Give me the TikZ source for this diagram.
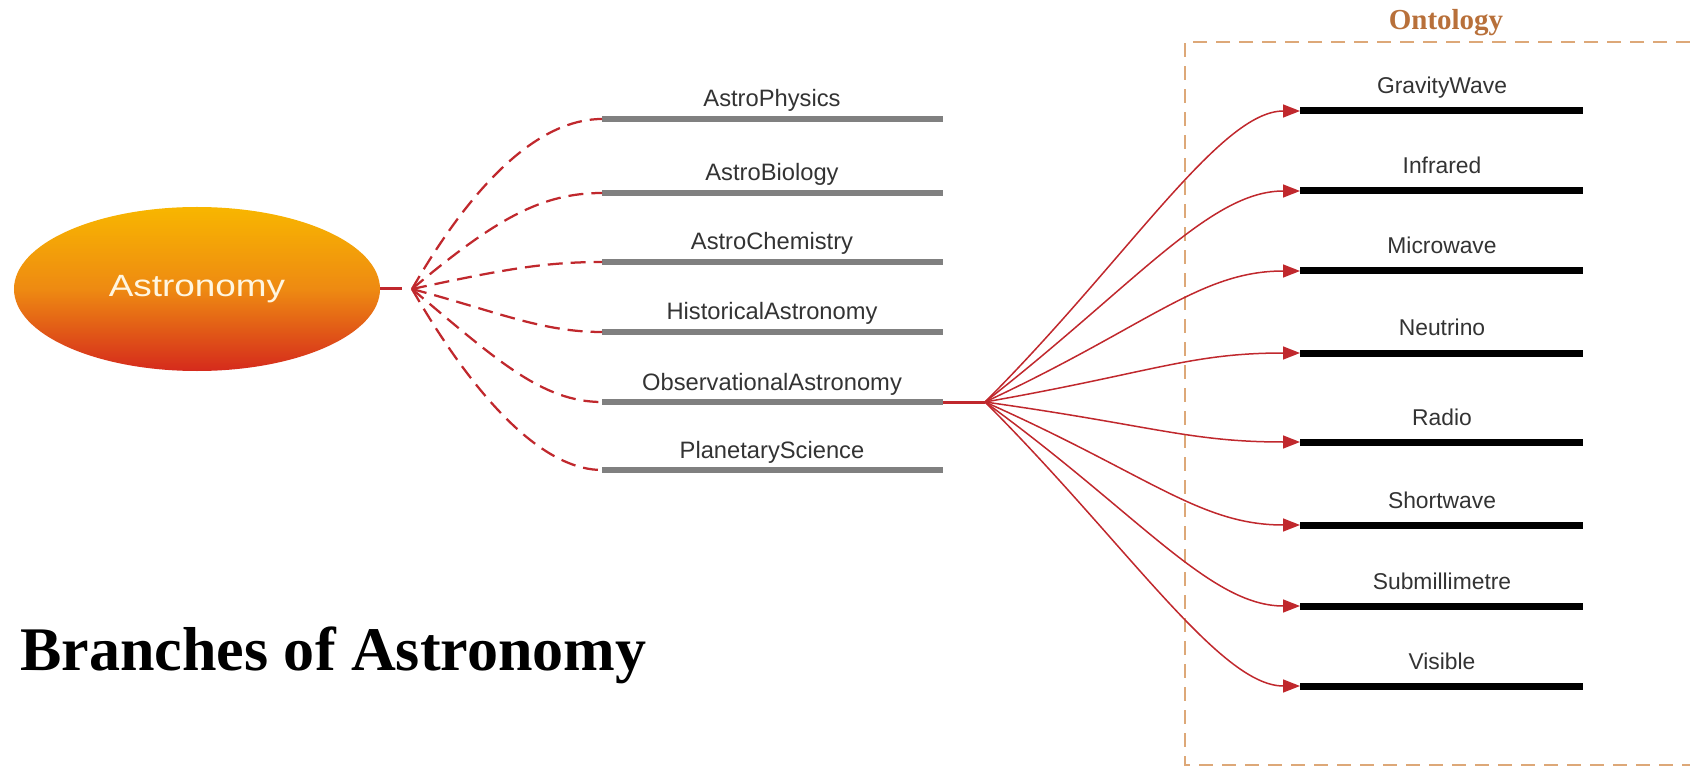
\documentclass[tikz,border=0pt]{standalone}
\usepackage{fontspec}
\setmainfont{Liberation Serif}
\newfontfamily\labelfont{Liberation Sans}
\newfontfamily\widefont[FakeStretch=1.2]{Liberation Sans}
\usepackage{tikz}
\usetikzlibrary{arrows.meta,shapes.geometric}
\definecolor{linkred}{HTML}{C0282D}
\definecolor{bargray}{HTML}{808080}
\definecolor{labelgray}{HTML}{333333}
\definecolor{ontoline}{HTML}{DDA878}
\definecolor{ontotext}{HTML}{B8703A}
\definecolor{sunyellow}{HTML}{F8B600}
\definecolor{sunorange}{HTML}{EE8A12}
\definecolor{sunred}{HTML}{D52A1C}
\definecolor{cream}{HTML}{FFF6E0}
\tikzset{%
    >={Triangle[length=3.4mm,width=2.6mm]},
    branch/.style={anchor=base, text=labelgray, font=\labelfont\fontsize{13.5}{16}\selectfont},
    band/.style={anchor=base, text=labelgray, font=\labelfont\fontsize{13}{16}\selectfont},
    graybar/.style={draw=bargray, line width=1.2mm},
    blackbar/.style={draw=black, line width=1.4mm},
    dashlink/.style={draw=linkred, line width=0.45mm, dash pattern=on 3mm off 1.6mm},
    redlink/.style={draw=linkred, line width=0.3mm, ->},
    ontobox/.style={draw=ontoline, line width=0.4mm, dash pattern=on 2.8mm off 1.8mm}
}

\begin{document}
\begin{tikzpicture}[x=0.2mm,y=0.2mm]
        \useasboundingbox (0,0) rectangle (1690,767);

        % root
        \node[ellipse, minimum width=73.2mm, minimum height=32.8mm, inner sep=0,
              top color=sunyellow, bottom color=sunred, middle color=sunorange,
              text=cream, font=\widefont\fontsize{17.5}{20}\selectfont] (astro) at (197,478) {Astronomy};
        \coordinate (stub) at (402,478);
        \coordinate (fan) at (412,478);
        \draw[linkred, line width=0.6mm] (astro.east) -- (stub);

        % branches
        \node[branch] (physics) at (772,660) {AstroPhysics};
        \node[branch] (biology) at (772,586) {AstroBiology};
        \node[branch] (chemistry) at (772,517) {AstroChemistry};
        \node[branch] (history) at (772,447) {HistoricalAstronomy};
        \node[branch] (observe) at (772,377) {ObservationalAstronomy};
        \node[branch] (planet) at (772,309) {PlanetaryScience};
        \draw[graybar] (602,648) coordinate (physics-w) -- (943,648);
        \draw[graybar] (602,574) coordinate (biology-w) -- (943,574);
        \draw[graybar] (602,505) coordinate (chemistry-w) -- (943,505);
        \draw[graybar] (602,435) coordinate (history-w) -- (943,435);
        \draw[graybar] (602,365) coordinate (observe-w) -- (943,365) coordinate (observe-e);
        \draw[graybar] (602,297) coordinate (planet-w) -- (943,297);

        \draw[dashlink] (fan) .. controls +(60:150) and +(-50,0) .. (physics-w);
        \draw[dashlink] (fan) .. controls +(40:110) and +(-60,0) .. (biology-w);
        \draw[dashlink] (fan) .. controls +(12:90) and +(-60,0) .. (chemistry-w);
        \draw[dashlink] (fan) .. controls +(-15:90) and +(-60,0) .. (history-w);
        \draw[dashlink] (fan) .. controls +(-40:110) and +(-60,0) .. (observe-w);
        \draw[dashlink] (fan) .. controls +(-60:150) and +(-50,0) .. (planet-w);

        % ontology
        \draw[ontobox] (1690,725) -- (1185,725) -- (1185,2) -- (1690,2);
        \node[anchor=base, text=ontotext, font=\bfseries\fontsize{16.5}{18}\selectfont] (ontology) at (1446,737) {Ontology};

        \node[band] (gravity) at (1442,673) {GravityWave};
        \node[band] (infrared) at (1442,593) {Infrared};
        \node[band] (microwave) at (1442,513) {Microwave};
        \node[band] (neutrino) at (1442,431) {Neutrino};
        \node[band] (radio) at (1442,342) {Radio};
        \node[band] (shortwave) at (1442,259) {Shortwave};
        \node[band] (submm) at (1442,178) {Submillimetre};
        \node[band] (visible) at (1442,98) {Visible};
        \draw[blackbar] (1300,656) coordinate (gravity-w) -- (1583,656);
        \draw[blackbar] (1300,576) coordinate (infrared-w) -- (1583,576);
        \draw[blackbar] (1300,496) coordinate (microwave-w) -- (1583,496);
        \draw[blackbar] (1300,414) coordinate (neutrino-w) -- (1583,414);
        \draw[blackbar] (1300,325) coordinate (radio-w) -- (1583,325);
        \draw[blackbar] (1300,242) coordinate (shortwave-w) -- (1583,242);
        \draw[blackbar] (1300,161) coordinate (submm-w) -- (1583,161);
        \draw[blackbar] (1300,81) coordinate (visible-w) -- (1583,81);

        \coordinate (spray) at (985,365);
        \draw[linkred, line width=0.6mm] (observe-e) -- (spray);
        \draw[redlink] (spray) .. controls +(45:200) and +(-80,0) .. (gravity-w);
        \draw[redlink] (spray) .. controls +(38:190) and +(-90,0) .. (infrared-w);
        \draw[redlink] (spray) .. controls +(25:180) and +(-100,0) .. (microwave-w);
        \draw[redlink] (spray) .. controls +(10:170) and +(-110,0) .. (neutrino-w);
        \draw[redlink] (spray) .. controls +(-8:170) and +(-110,0) .. (radio-w);
        \draw[redlink] (spray) .. controls +(-24:180) and +(-100,0) .. (shortwave-w);
        \draw[redlink] (spray) .. controls +(-36:190) and +(-90,0) .. (submm-w);
        \draw[redlink] (spray) .. controls +(-45:200) and +(-80,0) .. (visible-w);

        \node[anchor=base west, inner sep=0, font=\bfseries\fontsize{35.3}{40}\selectfont] (title) at (20,97) {Branches of Astronomy};
    \end{tikzpicture}
\end{document}
